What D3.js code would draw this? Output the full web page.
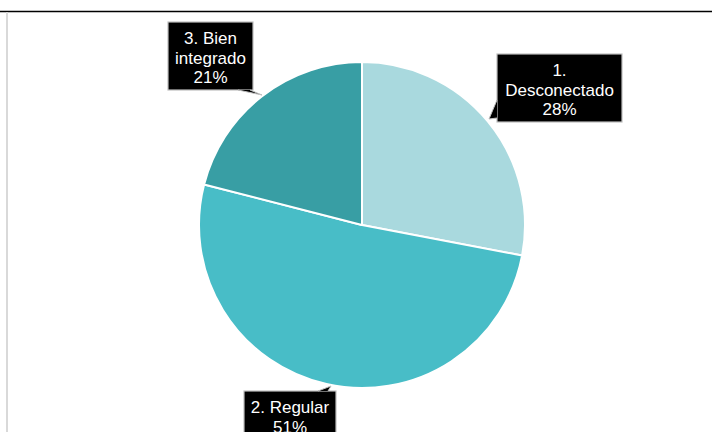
<!DOCTYPE html>
<html><head><meta charset="utf-8">
<script src="https://cdn.jsdelivr.net/npm/d3@7"></script>
<style>html,body{margin:0;padding:0;background:#fff;}svg{display:block;}</style>
</head><body>
<script>
const categories = ["1. Desconectado", "2. Regular", "3. Bien integrado"];
const values = [28, 51, 21];
const labelLines = [["1.", "Desconectado", "28%"], ["2. Regular", "51%"], ["3. Bien", "integrado", "21%"]];
const colors = ["#A9D9DE", "#48BDC7", "#389EA4"];

const W = 712, H = 432;
const svg = d3.select("body").append("svg").attr("width", W).attr("height", H);

// frame
svg.append("line").attr("x1", 0).attr("x2", W).attr("y1", 11.5).attr("y2", 11.5)
  .attr("stroke", "#000").attr("stroke-width", 1.5);
svg.append("line").attr("x1", 7).attr("x2", 7).attr("y1", 12).attr("y2", H)
  .attr("stroke", "#d9d9d9").attr("stroke-width", 2);

const cx = 362, cy = 225, r = 163;
const pie = d3.pie().sort(null).value(d => d)(values);
const arc = d3.arc().innerRadius(0).outerRadius(r);
const g = svg.append("g").attr("transform", `translate(${cx},${cy})`);
g.selectAll("path").data(pie).join("path")
  .attr("d", arc).attr("fill", (d, i) => colors[i])
  .attr("stroke", "#fff").attr("stroke-width", 2).attr("stroke-linejoin", "round");

// callout layout: box + tail (layout only)
const boxes = [
  {x: 497, y: 54, w: 125, h: 68, tail: [[497, 100], [489, 119], [497, 118]]},
  {x: 244, y: 391, w: 92, h: 60, tail: [[318, 391], [331, 386], [328, 391]]},
  {x: 168, y: 22, w: 85, h: 68, tail: [[238, 90], [262, 95], [250, 90]]}
];

const lab = svg.append("g");
boxes.forEach((b, i) => {
  const gg = lab.append("g");
  gg.append("rect").attr("x", b.x).attr("y", b.y).attr("width", b.w).attr("height", b.h)
    .attr("fill", "#000").attr("stroke", "#bfbfbf").attr("stroke-width", 1.2);
  gg.append("path").attr("d", d3.line()(b.tail)).attr("fill", "#000")
    .attr("stroke", "#bfbfbf").attr("stroke-width", 1);
  const t = gg.append("text").attr("fill", "#fff").attr("font-family", "Liberation Sans, Arial, sans-serif")
    .attr("font-size", 17).attr("text-anchor", "middle");
  labelLines[i].forEach((s, k) => {
    t.append("tspan").attr("x", b.x + b.w / 2).attr("y", b.y + 22 + k * 19.5).text(s);
  });
});
</script>
</body></html>
